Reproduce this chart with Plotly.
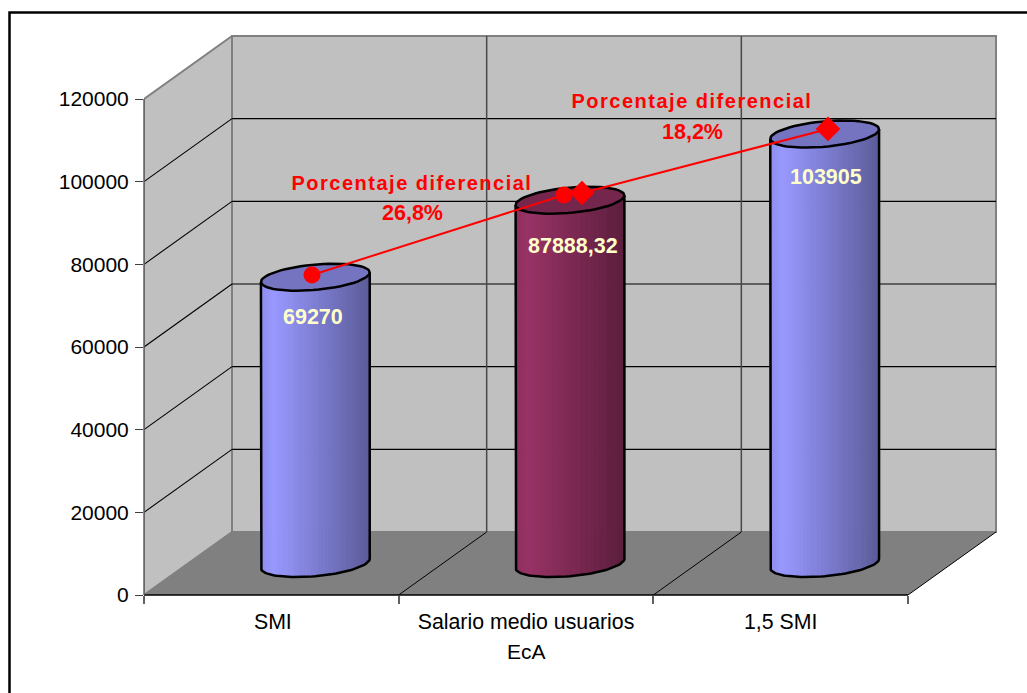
import numpy as np
import plotly.graph_objects as go

W, H = 1027, 693
FONT = "Liberation Sans"

# ---- data ----
categories = ["SMI", "Salario medio usuarios", "1,5 SMI"]
bar_values = [69270, 87888.32, 103905]
bar_labels = ["69270", "87888,32", "103905"]
bar_colors = [(153, 153, 255), (153, 51, 102), (153, 153, 255)]
y_ticks = [0, 20000, 40000, 60000, 80000, 100000, 120000]

line_a_x = [-0.013, 0.976]
line_a_y = [69800, 89160]
line_b_x = [1.047, 2.013]
line_b_y = [89640, 105130]

diff_title = "Porcentaje diferencial"
diff_values = ["26,8%", "18,2%"]

# ---- oblique 3D projection, in axis units ----
PX_X = 764 / 3          # pixels per category
PX_Y = 496 / 120000     # pixels per value unit
DX, DY = 88 / PX_X, 63 / PX_Y
XMIN, XMAX = -0.5, 2.5
YMAX = 120000
RIGHT_PX, TOP_PX = 1010, 20
X_END = XMIN + (RIGHT_PX - 144) / PX_X
Y_END = (595 - TOP_PX) / PX_Y


def proj(x, y, d):
    return x + d * DX, y + d * DY


def seg(p, q):
    a, b = proj(*p), proj(*q)
    return [a[0], b[0], None], [a[1], b[1], None]


fig = go.Figure()


def poly(pts, fill, line=None, lw=0):
    xs, ys = zip(*[proj(*p) for p in pts])
    fig.add_trace(go.Scatter(
        x=list(xs) + [xs[0]], y=list(ys) + [ys[0]], mode="lines", fill="toself",
        fillcolor=fill, line=dict(color=line or fill, width=lw if line else 0),
        hoverinfo="skip", showlegend=False, cliponaxis=False))


def lines(segs, color, lw):
    xs, ys = [], []
    for p, q in segs:
        a, b = seg(p, q)
        xs += a
        ys += b
    fig.add_trace(go.Scatter(x=xs, y=ys, mode="lines", line=dict(color=color, width=lw),
                             hoverinfo="skip", showlegend=False, cliponaxis=False))


# walls and floor
poly([(XMIN, 0, 0), (XMIN, YMAX, 0), (XMIN, YMAX, 1), (XMIN, 0, 1)], "#C0C0C0", "#808080", 2)
poly([(XMIN, 0, 1), (XMIN, YMAX, 1), (XMAX, YMAX, 1), (XMAX, 0, 1)], "#C0C0C0", "#808080", 2)
poly([(XMIN, 0, 0), (XMIN, 0, 1), (XMAX, 0, 1), (XMAX, 0, 0)], "#808080")

grid_vals = y_ticks[1:-1]
lines([((XMIN, v, 0), (XMIN, v, 1)) for v in grid_vals] +
      [((XMIN, v, 1), (XMAX, v, 1)) for v in grid_vals], "#000000", 1.1)
lines([((x, 0, 1), (x, YMAX, 1)) for x in (0.5, 1.5)], "#484848", 1.5)
lines([((x, 0, 0), (x, 0, 1)) for x in (0.5, 1.5, 2.5)], "#000000", 1)

# cylinders
Rpx = 51
R = Rpx / PX_X
RZ = 0.215
t_r = np.arctan2(88 * RZ, Rpx)


def rim(cx, v, t):
    return cx + R * np.cos(t), v, 0.5 + RZ * np.sin(t)


def shade(f):
    return 0.93 + f / 0.12 * 0.07 if f < 0.12 else 1 - (f - 0.12) * 0.45


for i, (val, col) in enumerate(zip(bar_values, bar_colors)):
    ts = np.linspace(t_r + np.pi, t_r + 2 * np.pi, 49)
    xproj = [proj(*rim(i, val, t))[0] for t in ts]
    for k in range(len(ts) - 1):
        f = ((xproj[k] + xproj[k + 1]) / 2 - xproj[0]) / (xproj[-1] - xproj[0])
        s = shade(f)
        c = "rgb(%d,%d,%d)" % tuple(int(ch * s) for ch in col)
        poly([rim(i, val, ts[k]), rim(i, val, ts[k + 1]),
              rim(i, 0, ts[k + 1]), rim(i, 0, ts[k])], c, c, 1)
    # top cap
    tt = np.linspace(0, 2 * np.pi, 61)
    top_col = "rgb(%d,%d,%d)" % tuple(int(ch * 0.76) for ch in col)
    poly([rim(i, val, t) for t in tt[:-1]], top_col, "#000000", 2.5)
    # silhouette
    pts = [rim(i, val, ts[0])] + [rim(i, 0, t) for t in ts] + [rim(i, val, ts[-1])]
    xs, ys = zip(*[proj(*p) for p in pts])
    fig.add_trace(go.Scatter(x=xs, y=ys, mode="lines", line=dict(color="#000000", width=2.5),
                             hoverinfo="skip", showlegend=False, cliponaxis=False))

# lines with markers
for xs, ys, sym, size in ((line_a_x, line_a_y, "circle", 17), (line_b_x, line_b_y, "diamond", 19)):
    px_, py_ = zip(*[proj(x, y, 0.5) for x, y in zip(xs, ys)])
    fig.add_trace(go.Scatter(x=px_, y=py_, mode="lines+markers",
                             line=dict(color="#FF0000", width=2),
                             marker=dict(symbol=sym, size=size, color="#FF0000"),
                             hoverinfo="skip", showlegend=False, cliponaxis=False))

# annotations
annots = []
label_y = [59640, 76820, 93510]
label_x = [-0.008, 1.012, 2.004]
for x, y, t in zip(label_x, label_y, bar_labels):
    ax, ay = proj(x, y, 0.5)
    annots.append(dict(x=ax, y=ay, text="<b>%s</b>" % t, showarrow=False,
                       font=dict(family=FONT, size=21.5, color="#FFFFCC")))
for x, y, t, dy in ((XMIN + (412 - 144) / PX_X, (595 - 183) / PX_Y, diff_values[0], -30),
                    (XMIN + (692 - 144) / PX_X, (595 - 101) / PX_Y, diff_values[1], -31)):
    annots.append(dict(x=x, y=y, text="<b>%s</b>" % diff_title, showarrow=False,
                       font=dict(family=FONT, size=20, color="#FF0000")))
    annots.append(dict(x=x, y=y, text="<b>%s</b>" % t, showarrow=False, yshift=dy,
                       font=dict(family=FONT, size=21.5, color="#FF0000")))
annots.append(dict(x=1, y=0, text="EcA", showarrow=False, yshift=-56,
                   font=dict(family=FONT, size=21, color="#000000")))

frame = dict(type="rect", xref="paper", yref="paper", layer="below",
             x0=9.5 / W, x1=1045 / W, y0=1 - 712 / H, y1=1 - 12.5 / H,
             line=dict(color="#000000", width=2.5))
xline = dict(type="line", xref="x", yref="paper", layer="above",
             x0=XMIN, x1=XMAX, y0=1 - 595 / H, y1=1 - 595 / H,
             line=dict(color="#000000", width=1.5))
yline = dict(type="line", xref="paper", yref="y", layer="above",
             x0=144 / W, x1=144 / W, y0=0, y1=YMAX,
             line=dict(color="#606060", width=1.5))

fig.update_layout(
    width=W, height=H, margin=dict(l=0, r=0, t=0, b=0), autosize=False,
    paper_bgcolor="#FFFFFF", plot_bgcolor="rgba(0,0,0,0)", showlegend=False,
    font=dict(family=FONT, color="#000000"),
    annotations=annots,
    shapes=[frame, xline, yline],
    xaxis=dict(domain=[144 / W, RIGHT_PX / W], range=[XMIN, X_END], tickmode="array",
               tickvals=[0.006, 1, 2], ticktext=categories, ticks="", showgrid=False, zeroline=False,
               showline=False, automargin=False,
               tickfont=dict(family=FONT, size=21.3), ticklabelstandoff=12,
               minor=dict(tickmode="array", tickvals=[-0.5, 0.5, 1.5, 2.5], ticks="outside",
                          ticklen=8, tickcolor="#606060", tickwidth=1.5, showgrid=False)),
    yaxis=dict(domain=[1 - 595 / H, 1 - TOP_PX / H], range=[0, Y_END], tickmode="array",
               tickvals=y_ticks, ticktext=[str(v) for v in y_ticks], ticks="outside", ticklen=8,
               tickcolor="#404040", tickwidth=1, showgrid=False, zeroline=False, showline=False,
               automargin=False, tickfont=dict(family=FONT, size=21), ticklabelstandoff=2),
)

post = """
document.body.style.margin='0';document.body.style.overflow='hidden';
document.querySelectorAll('.annotation-text').forEach(function(t){
  if(t.textContent.indexOf('Porcentaje')===0){t.style.letterSpacing='1.5px';}
});
"""
fig.write_html("out.html", config={"displayModeBar": False}, post_script=post)
